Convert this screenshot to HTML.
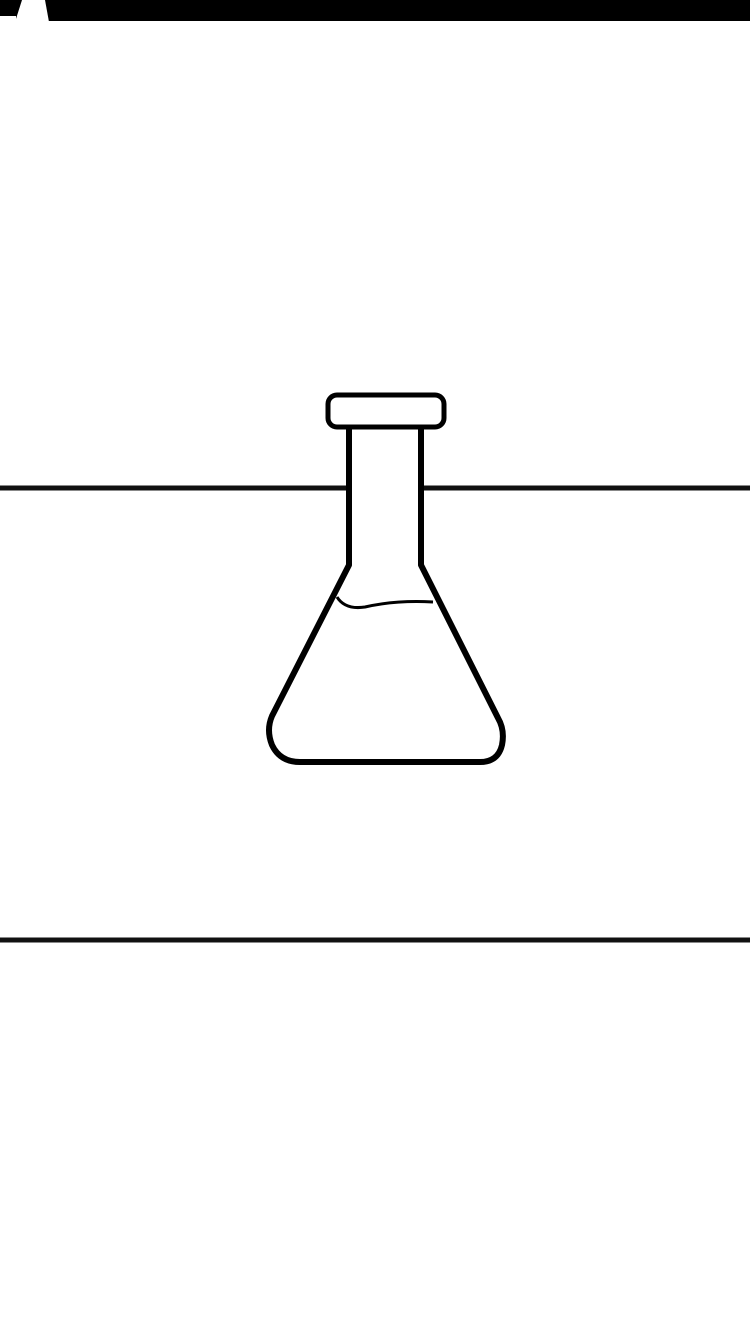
<!DOCTYPE html>
<html><head><meta charset="utf-8"><style>
html,body{margin:0;padding:0;background:#fff;width:750px;height:1334px;overflow:hidden}
svg{display:block}
</style></head><body>
<svg width="750" height="1334" viewBox="0 0 750 1334">
  <rect x="0" y="0" width="750" height="21" fill="#000"/>
  <polygon points="22,0 45,0 49,22 15,22" fill="#fff"/>
  <rect x="0" y="16" width="16" height="6" fill="#fff"/>
  <line x1="0" y1="488" x2="750" y2="488" stroke="#111" stroke-width="5"/>
  <line x1="0" y1="940" x2="750" y2="940" stroke="#111" stroke-width="5"/>
  <g fill="#fff" stroke="#000" stroke-width="6" stroke-linejoin="round">
    <path d="M349 426 V565 L272 716 Q266 730 272 745 Q280 762 300 762 H480 Q498 762 502 745 Q505 730 498 718 L421 565 V426 Z"/>
    <rect x="328" y="395" width="116" height="32" rx="9" stroke-width="5"/>
    <path d="M337 597 Q345 610 365 607 Q395 600 433 602" fill="none" stroke-width="3"/>
  </g>
</svg>
</body></html>
